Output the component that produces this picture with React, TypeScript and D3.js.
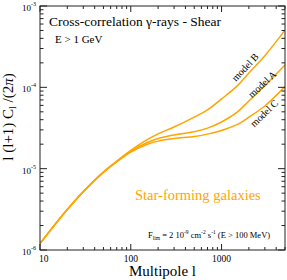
import React from 'react';
import * as d3 from 'd3';

// multipoles and the three model curves
const ells = [10, 15, 20, 30, 50, 70, 100, 150, 200, 300, 500, 700, 1000, 1500, 2000, 3000, 5000];
const modelA = [1.2e-6, 2.13e-6, 3.15e-6, 5.22e-6, 9.05e-6, 1.225e-5, 1.63e-5, 2.08e-5, 2.35e-5, 2.6e-5, 2.85e-5, 3.15e-5, 3.75e-5, 5.0e-5, 6.8e-5, 1.05e-4, 1.88e-4];
const modelB = [1.2e-6, 2.13e-6, 3.16e-6, 5.25e-6, 9.15e-6, 1.24e-5, 1.68e-5, 2.26e-5, 2.68e-5, 3.25e-5, 4.3e-5, 5.3e-5, 7.2e-5, 1.05e-4, 1.5e-4, 2.45e-4, 5.05e-4];
const modelC = [1.2e-6, 2.13e-6, 3.14e-6, 5.2e-6, 9.0e-6, 1.215e-5, 1.6e-5, 1.98e-5, 2.18e-5, 2.35e-5, 2.48e-5, 2.66e-5, 2.95e-5, 3.5e-5, 4.3e-5, 5.9e-5, 1.02e-4];

const xTickLabels = [10, 100, 1000];
const yTickExps = [-6, -5, -4, -3];

const series = [
  { name: 'model B', values: modelB, label: { x: 246, y: 68, rot: -47 } },
  { name: 'model A', values: modelA, label: { x: 263, y: 85, rot: -43 } },
  { name: 'model C', values: modelC, label: { x: 265, y: 114, rot: -44 } },
];

const width = 287;
const height = 280;
const left = 40, right = 285, top = 6, bottom = 250;
const orange = '#ffa500';
const font = '"Liberation Serif", "Times New Roman", serif';

export default function App() {
  const x = d3.scaleLog().domain([10, 5000]).range([left, right]);
  const y = d3.scaleLog().domain([1e-6, 1e-3]).range([bottom, top]);

  const line = d3.line<number>()
    .x((_, i) => x(ells[i]))
    .y(d => y(d))
    .curve(d3.curveCatmullRom.alpha(0.5));

  // minor/major ticks
  const xTicks: { v: number; major: boolean }[] = [];
  for (let p = 10; p <= 1000; p *= 10) {
    for (let m = 1; m < 10; m++) {
      const v = p * m;
      if (v <= 5000) xTicks.push({ v, major: m === 1 });
    }
  }
  const yTicks: { v: number; major: boolean }[] = [];
  for (let e = -6; e < -3; e++) {
    for (let m = 1; m < 10; m++) yTicks.push({ v: m * Math.pow(10, e), major: m === 1 });
  }
  yTicks.push({ v: 1e-3, major: true });

  const stroke = '#222';

  return (
    <svg width={width} height={height} style={{ position: 'absolute', left: 0, top: 0 }} fontFamily={font}>
      <rect width={width} height={height} fill="#fff" />

      {/* curves */}
      <clipPath id="clip">
        <rect x={left} y={top} width={right - left} height={bottom - top} />
      </clipPath>
      <g clipPath="url(#clip)">
        {series.map(s => (
          <path key={s.name} d={line(s.values) || ''} fill="none" stroke={orange} strokeWidth={1.5} />
        ))}
      </g>

      {/* ticks */}
      {xTicks.map((t, i) => {
        const len = t.major ? 6 : 3;
        const px = x(t.v);
        return (
          <g key={'x' + i} stroke={stroke} strokeWidth={1}>
            <line x1={px} x2={px} y1={bottom} y2={bottom - len} />
            <line x1={px} x2={px} y1={top} y2={top + len} />
          </g>
        );
      })}
      {yTicks.map((t, i) => {
        const len = t.major ? 7 : 3.5;
        const py = y(t.v);
        return (
          <g key={'y' + i} stroke={stroke} strokeWidth={1}>
            <line x1={left} x2={left + len} y1={py} y2={py} />
            <line x1={right} x2={right - len} y1={py} y2={py} />
          </g>
        );
      })}

      <rect x={left} y={top} width={right - left} height={bottom - top} fill="none" stroke={stroke} strokeWidth={1} />

      {/* tick labels */}
      {xTickLabels.map(v => (
        <text key={v} x={x(v)} y={bottom + 12} fontSize={9.5} textAnchor={v === 10 ? 'start' : 'middle'} dx={v === 10 ? -1 : 0} fill="#000">
          {v}
        </text>
      ))}
      {yTickExps.map(e => (
        <text key={e} x={left - 4} y={y(Math.pow(10, e)) + 5} fontSize={9} textAnchor="end" fill="#000">
          10<tspan fontSize={6} dy={-5}>{e}</tspan>
        </text>
      ))}

      {/* axis titles */}
      <text x={(left + right) / 2} y={276} fontSize={15} textAnchor="middle">Multipole l</text>
      <text transform="translate(13, 117) rotate(-90)" fontSize={15} textAnchor="middle">
        l (l+1) C<tspan fontSize={9.5} dy={3}>l</tspan><tspan dy={-3}> /(2</tspan><tspan fontStyle="italic">π</tspan>)
      </text>

      {/* annotations */}
      <text x={49} y={26} fontSize={13.5}>Cross-correlation γ-rays - Shear</text>
      <text x={55} y={43} fontSize={11}>E &gt; 1 GeV</text>
      <text x={135} y={200} fontSize={14.5} fill={orange}>Star-forming galaxies</text>
      <text x={148} y={238} fontSize={8.5}>
        F<tspan fontSize={5.5} dy={2}>lim</tspan><tspan dy={-2}> = 2 10</tspan>
        <tspan fontSize={5.5} dy={-4}>-9</tspan><tspan dy={4}> cm</tspan>
        <tspan fontSize={5.5} dy={-4}>-2</tspan><tspan dy={4}> s</tspan>
        <tspan fontSize={5.5} dy={-4}>-1</tspan><tspan dy={4}> (E &gt; 100 MeV)</tspan>
      </text>

      {series.map(s => (
        <text key={s.name + 'l'} transform={`translate(${s.label.x}, ${s.label.y}) rotate(${s.label.rot})`}
          fontSize={10} textAnchor="middle" dominantBaseline="middle">
          {s.name}
        </text>
      ))}
    </svg>
  );
}
